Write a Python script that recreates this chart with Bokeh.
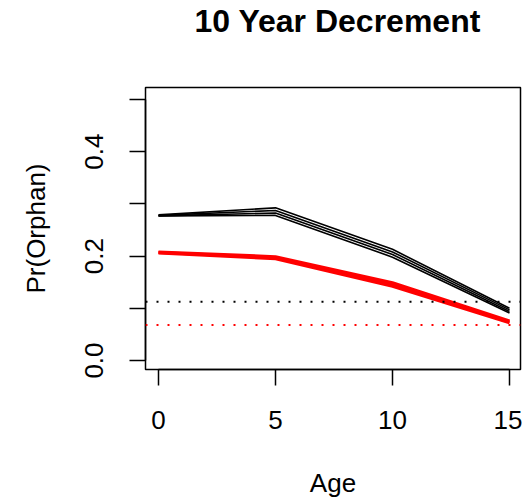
from bokeh.plotting import figure
from bokeh.models import Range1d, FixedTicker, Span, Title
from bokeh.embed import file_html
from bokeh.resources import INLINE

ages = [0, 5, 10, 15]

black_series = [
    [0.279, 0.2925, 0.213, 0.100],
    [0.278, 0.2875, 0.208, 0.097],
    [0.277, 0.2825, 0.203, 0.094],
    [0.277, 0.278, 0.198, 0.091],
]
red_series = [
    [0.208, 0.199, 0.149, 0.076],
    [0.207, 0.197, 0.145, 0.074],
    [0.206, 0.195, 0.142, 0.072],
]
black_ref = 0.1128
red_ref = 0.068

x_ticks = [0, 5, 10, 15]
y_ticks = [0.0, 0.1, 0.2, 0.3, 0.4, 0.5]
y_tick_labels = {0.0: "0.0", 0.1: "", 0.2: "0.2", 0.3: "", 0.4: "0.4", 0.5: ""}
title_text = "10 Year Decrement"

FONT = "Liberation Sans"

p = figure(width=522, height=500, output_backend="svg", toolbar_location=None,
           x_range=Range1d(-0.556, 15.47), y_range=Range1d(-0.0172, 0.523),
           min_border_left=145, min_border_right=2, min_border_top=87, min_border_bottom=131,
           title=None)

# spacer panel between frame and the title (closest to the frame)
p.add_layout(Title(text=" ", text_font_size="1px", standoff=44), "above")
# main title
p.add_layout(Title(text=title_text, text_font=FONT, text_font_size="32px",
                   text_font_style="bold", text_color="black", align="left",
                   offset=49, vertical_align="top", standoff=0), "above")

p.grid.visible = False
p.outline_line_color = "black"
p.outline_line_width = 1.5
p.background_fill_color = "white"
p.border_fill_color = "white"

for ax in (p.xaxis[0], p.yaxis[0]):
    ax.major_tick_in = 0
    ax.major_tick_out = 16
    ax.minor_tick_line_color = None
    ax.major_tick_line_width = 1.5
    ax.axis_line_width = 1.5
    ax.major_label_text_font = FONT
    ax.major_label_text_font_size = "26px"
    ax.major_label_text_color = "black"
    ax.axis_label_text_font = FONT
    ax.axis_label_text_font_size = "26px"
    ax.axis_label_text_font_style = "normal"
    ax.axis_label_text_color = "black"

p.xaxis.ticker = FixedTicker(ticks=x_ticks)
p.xaxis.bounds = (0, 15)
p.xaxis.axis_label = "Age"
p.xaxis.major_label_standoff = 25
p.xaxis.axis_label_standoff = 36

p.yaxis.ticker = FixedTicker(ticks=y_ticks)
p.yaxis.major_label_overrides = y_tick_labels
p.yaxis.bounds = (0, 0.5)
p.yaxis.major_label_orientation = "vertical"
p.yaxis.axis_label = "Pr(Orphan)"
p.yaxis.major_label_standoff = 26
p.yaxis.axis_label_standoff = 32

p.add_layout(Span(location=black_ref, dimension="width", line_color="black",
                  line_width=2, line_dash="2 9"))
p.add_layout(Span(location=red_ref, dimension="width", line_color="red",
                  line_width=2, line_dash="2 9"))

for ys in black_series:
    p.line(ages, ys, line_color="black", line_width=1.6)
for ys in red_series:
    p.line(ages, ys, line_color="red", line_width=3)

open("out.html", "w").write(file_html(p, INLINE))
